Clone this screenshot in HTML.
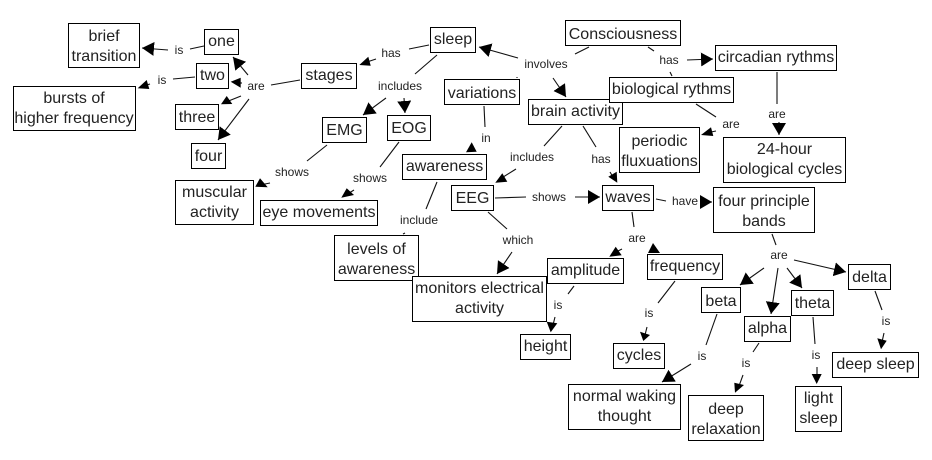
<!DOCTYPE html>
<html><head><meta charset="utf-8"><title>Consciousness concept map</title>
<style>
html,body{margin:0;padding:0;background:#fff;width:932px;height:460px;overflow:hidden}
svg{display:block}
.n rect{fill:#fff;stroke:#000;stroke-width:1}
.n text{font:16px "Liberation Sans",Arial,sans-serif;fill:#222;text-anchor:middle}
.l text{font:12px "Liberation Sans",Arial,sans-serif;fill:#222;text-anchor:middle}
.c line{stroke:#111;stroke-width:1.1}
.a line{stroke:#111;stroke-width:1.1;marker-end:url(#h)}
</style></head><body>
<svg xmlns="http://www.w3.org/2000/svg" width="932" height="460" viewBox="0 0 932 460">
<defs><marker id="h" markerUnits="userSpaceOnUse" markerWidth="14" markerHeight="15" refX="12" refY="7" orient="auto"><path d="M0,0L12,7L0,14z" fill="#000"/></marker></defs>
<rect width="932" height="460" fill="#fff"/>
<g class="c">
<line x1="204" y1="46" x2="190" y2="49"/>
<line x1="195" y1="77" x2="173" y2="79"/>
<line x1="300" y1="80" x2="271" y2="85"/>
<line x1="327" y1="145" x2="307" y2="161"/>
<line x1="429" y1="45" x2="409" y2="49"/>
<line x1="437" y1="55" x2="415" y2="74"/>
<line x1="399" y1="142" x2="380" y2="167"/>
<line x1="589" y1="47" x2="575" y2="54"/>
<line x1="484" y1="106" x2="485" y2="127"/>
<line x1="437" y1="182" x2="426" y2="209"/>
<line x1="405" y1="233" x2="403" y2="234"/>
<line x1="517" y1="77" x2="517" y2="78"/>
<line x1="562" y1="126" x2="544" y2="146"/>
<line x1="583" y1="126" x2="596" y2="147"/>
<line x1="495" y1="198" x2="526" y2="197"/>
<line x1="488" y1="212" x2="507" y2="229"/>
<line x1="648" y1="47" x2="654" y2="51"/>
<line x1="670" y1="72" x2="672" y2="76"/>
<line x1="696" y1="104" x2="716" y2="117"/>
<line x1="777" y1="72" x2="777" y2="104"/>
<line x1="656" y1="199" x2="666" y2="201"/>
<line x1="632" y1="212" x2="634" y2="227"/>
<line x1="675" y1="281" x2="658" y2="303"/>
<line x1="574" y1="286" x2="568" y2="294"/>
<line x1="772" y1="234" x2="776" y2="245"/>
<line x1="717" y1="314" x2="706" y2="345"/>
<line x1="759" y1="343" x2="753" y2="352"/>
<line x1="813" y1="317" x2="815" y2="344"/>
<line x1="875" y1="291" x2="882" y2="310"/>
<line x1="150" y1="84" x2="143" y2="86"/>
<line x1="242" y1="83" x2="236" y2="83"/>
<line x1="241" y1="96" x2="226" y2="102"/>
<line x1="270" y1="183" x2="260" y2="185"/>
<line x1="376" y1="59" x2="364" y2="63"/>
<line x1="354" y1="190" x2="346" y2="195"/>
<line x1="516" y1="169" x2="500" y2="179"/>
<line x1="610" y1="172" x2="613" y2="177"/>
<line x1="716" y1="131" x2="706" y2="133"/>
<line x1="622" y1="249" x2="614" y2="253"/>
<line x1="647" y1="327" x2="645" y2="335"/>
<line x1="555" y1="317" x2="553" y2="325"/>
<line x1="743" y1="375" x2="739" y2="386"/>
<line x1="817" y1="367" x2="817" y2="376"/>
<line x1="884" y1="333" x2="882" y2="342"/>
</g>
<g class="a">
<line x1="168" y1="50" x2="142" y2="48"/>
<line x1="248" y1="75" x2="233" y2="57"/>
<line x1="249" y1="99" x2="218" y2="140"/>
<line x1="404" y1="98" x2="405" y2="113"/>
<line x1="386" y1="98" x2="363" y2="115"/>
<line x1="518" y1="58" x2="479" y2="47"/>
<line x1="553" y1="78" x2="566" y2="97"/>
<line x1="575" y1="197" x2="600" y2="197"/>
<line x1="512" y1="252" x2="497" y2="274"/>
<line x1="687" y1="60" x2="713" y2="59"/>
<line x1="779" y1="122" x2="779" y2="135"/>
<line x1="700" y1="202" x2="712" y2="202"/>
<line x1="764" y1="268" x2="740" y2="285"/>
<line x1="778" y1="268" x2="771" y2="314"/>
<line x1="787" y1="268" x2="802" y2="288"/>
<line x1="794" y1="260" x2="846" y2="272"/>
<line x1="691" y1="364" x2="662" y2="382"/>
</g>
<g fill="#000">
<polygon points="471.7,142.3 466,152.3 476.7,151.7"/>
<polygon points="653,243 648,253 660,253"/>
<polygon points="546.7,321.7 557.3,323.3 550.7,332.3"/>
<polygon points="640,331.7 650,335 643.3,341"/>
<polygon points="877.3,338.3 886.7,340.7 881,349.3"/>
<polygon points="734.3,382.7 744,385 735,392.7"/>
<polygon points="811.7,374 821.7,374 816.7,384"/>
<polygon points="608.3,176.7 616.7,171.7 617.3,182.7"/>
<polygon points="255.3,186.7 260,178.3 267.7,187.3"/>
<polygon points="341.3,197.7 346.7,188.3 354,195"/>
<polygon points="701,135 711,127.3 713.3,136"/>
<polygon points="609.3,256.7 615.7,246.7 621.7,255.3"/>
<polygon points="221,104.3 226.7,96 232.3,104"/>
<polygon points="137.7,88.3 146.7,80 149.3,89"/>
<polygon points="230.7,81.7 240.7,77.7 240.7,87.7"/>
<polygon points="359.3,65 368.3,56.7 370.7,65.7"/>
<polygon points="495.3,182.7 502.3,173.3 507.3,181.7"/>
</g>
<g class="l">
<text x="179" y="54">is</text>
<text x="162" y="84">is</text>
<text x="256" y="90">are</text>
<text x="292" y="176">shows</text>
<text x="391" y="57">has</text>
<text x="400" y="90">includes</text>
<text x="370" y="182">shows</text>
<text x="546" y="68">involves</text>
<text x="486" y="142">in</text>
<text x="419" y="224">include</text>
<text x="532" y="161">includes</text>
<text x="601" y="163">has</text>
<text x="549" y="201">shows</text>
<text x="518" y="244">which</text>
<text x="669" y="64">has</text>
<text x="731" y="128">are</text>
<text x="777" y="118">are</text>
<text x="685" y="205">have</text>
<text x="637" y="242">are</text>
<text x="649" y="317">is</text>
<text x="558" y="309">is</text>
<text x="779" y="259">are</text>
<text x="702" y="360">is</text>
<text x="746" y="367">is</text>
<text x="816" y="359">is</text>
<text x="886" y="325">is</text>
</g>
<g class="n">
<rect x="68.5" y="23.5" width="71" height="44"/><text x="104" y="41">brief</text><text x="104" y="61">transition</text>
<rect x="204.5" y="29.5" width="34" height="25"/><text x="221.5" y="46">one</text>
<rect x="196.5" y="63.5" width="32" height="25"/><text x="212.5" y="80">two</text>
<rect x="13.5" y="86.5" width="122" height="44"/><text x="74" y="103">bursts of</text><text x="74" y="123">higher frequency</text>
<rect x="175.5" y="104.5" width="43" height="25"/><text x="197" y="122">three</text>
<rect x="191.5" y="143.5" width="34" height="25"/><text x="208.5" y="161">four</text>
<rect x="175.5" y="180.5" width="78" height="44"/><text x="214.5" y="197">muscular</text><text x="214.5" y="217">activity</text>
<rect x="260.5" y="200.5" width="117" height="25"/><text x="319" y="217">eye movements</text>
<rect x="301.5" y="63.5" width="55" height="25"/><text x="329" y="80">stages</text>
<rect x="430.5" y="27.5" width="45" height="25"/><text x="453" y="44">sleep</text>
<rect x="444.5" y="79.5" width="75" height="25"/><text x="482" y="98">variations</text>
<rect x="528.5" y="99.5" width="94" height="25"/><text x="575.5" y="116">brain activity</text>
<rect x="322.5" y="117.5" width="44" height="25"/><text x="344.5" y="135">EMG</text>
<rect x="387.5" y="115.5" width="43" height="25"/><text x="409" y="133">EOG</text>
<rect x="402.5" y="154.5" width="84" height="25"/><text x="444.5" y="171">awareness</text>
<rect x="451.5" y="185.5" width="42" height="25"/><text x="472.5" y="203">EEG</text>
<rect x="602.5" y="185.5" width="51" height="25"/><text x="628" y="202">waves</text>
<rect x="565.5" y="20.5" width="115" height="25"/><text x="623" y="39">Consciousness</text>
<rect x="609.5" y="77.5" width="124" height="25"/><text x="671.5" y="94">biological rythms</text>
<rect x="715.5" y="45.5" width="121" height="25"/><text x="776" y="62">circadian rythms</text>
<rect x="619.5" y="127.5" width="80" height="45"/><text x="659.5" y="146">periodic</text><text x="659.5" y="166">fluxuations</text>
<rect x="723.5" y="137.5" width="122" height="45"/><text x="784.5" y="154">24-hour</text><text x="784.5" y="174">biological cycles</text>
<rect x="713.5" y="187.5" width="101" height="45"/><text x="764" y="206">four principle</text><text x="764" y="226">bands</text>
<rect x="334.5" y="235.5" width="84" height="45"/><text x="376.5" y="254">levels of</text><text x="376.5" y="274">awareness</text>
<rect x="412.5" y="276.5" width="134" height="45"/><text x="479.5" y="293">monitors electrical</text><text x="479.5" y="313">activity</text>
<rect x="547.5" y="258.5" width="76" height="25"/><text x="585.5" y="275">amplitude</text>
<rect x="520.5" y="334.5" width="50" height="25"/><text x="545.5" y="351">height</text>
<rect x="647.5" y="254.5" width="75" height="25"/><text x="685" y="271">frequency</text>
<rect x="701.5" y="287.5" width="39" height="25"/><text x="721" y="306">beta</text>
<rect x="744.5" y="316.5" width="46" height="25"/><text x="767.5" y="333">alpha</text>
<rect x="791.5" y="290.5" width="42" height="25"/><text x="812.5" y="308">theta</text>
<rect x="848.5" y="264.5" width="42" height="25"/><text x="869.5" y="282">delta</text>
<rect x="613.5" y="343.5" width="51" height="25"/><text x="639" y="360">cycles</text>
<rect x="832.5" y="352.5" width="86" height="25"/><text x="875.5" y="369">deep sleep</text>
<rect x="568.5" y="384.5" width="112" height="45"/><text x="624.5" y="401">normal waking</text><text x="624.5" y="421">thought</text>
<rect x="688.5" y="395.5" width="75" height="45"/><text x="726" y="414">deep</text><text x="726" y="434">relaxation</text>
<rect x="795.5" y="386.5" width="46" height="45"/><text x="818.5" y="403">light</text><text x="818.5" y="423">sleep</text>
</g>
</svg>
</body></html>
